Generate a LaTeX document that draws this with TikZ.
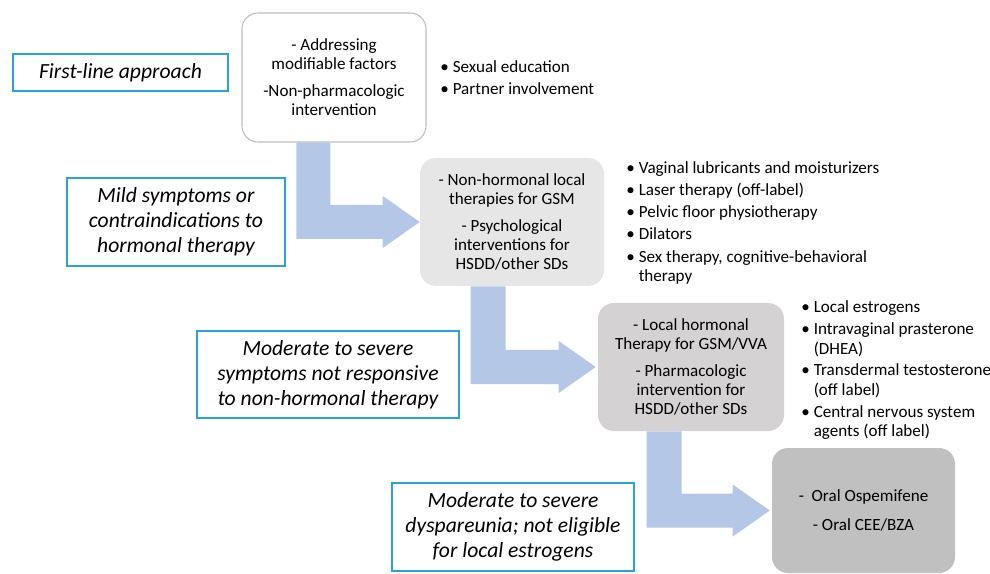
\documentclass[tikz,border=0pt]{standalone}
\usepackage{fontspec}
\setmainfont{Carlito}
\usetikzlibrary{calc}
\definecolor{condblue}{RGB}{41,163,219}
\definecolor{flowblue}{RGB}{180,199,231}
\definecolor{edgegray}{RGB}{191,191,191}
\definecolor{grayB}{RGB}{231,230,230}
\definecolor{grayC}{RGB}{212,210,210}
\definecolor{grayD}{RGB}{192,192,192}
\newcommand{\bitem}{\textbullet &}
\begin{document}
\begin{tikzpicture}[x=0.75pt,y=-0.75pt,
  cond/.style={draw=condblue,line width=0.9pt,align=center,inner sep=0pt,
    font=\fontsize{16.2}{18.75}\selectfont\itshape},
  stage/.style={rounded corners=12pt,align=center,inner sep=0pt,
    font=\fontsize{12.8}{14.3}\selectfont},
  list/.style={anchor=north west,inner sep=0pt,font=\fontsize{12.8}{14.8}\selectfont},
  flow/.style={fill=flowblue}]
\useasboundingbox (0,0) rectangle (990,574);

% treatment steps
\node[stage,draw=edgegray,line width=0.8pt,fill=white,minimum width=138pt,minimum height=96.75pt]
  (first) at (334,77.5) {- Addressing\\modifiable factors\\[6pt]-Non-pharmacologic\\intervention};
\node[stage,fill=grayB,minimum width=138pt,minimum height=96pt]
  (nonhorm) at (512,222) {- Non-hormonal local\\therapies for GSM\\[6pt]- Psychological\\interventions for\\HSDD/other SDs};
\node[stage,fill=grayC,minimum width=139.5pt,minimum height=96pt]
  (horm) at (691,367) {- Local hormonal\\Therapy for GSM/VVA\\[6pt]- Pharmacologic\\intervention for\\HSDD/other SDs};
\node[stage,fill=grayD,minimum width=137.25pt,minimum height=93.75pt]
  (oral) at (863.5,510.5) {-\ \ Oral Ospemifene\\[7pt]- Oral CEE/BZA};

% conditions
\node[cond,minimum width=161.25pt,minimum height=27.75pt] (c1) at (120.5,72.5) {First-line approach};
\node[cond,minimum width=163.5pt,minimum height=66pt] (c2) at (176,222)
  {Mild symptoms or\\contraindications to\\hormonal therapy};
\node[cond,minimum width=196.5pt,minimum height=65.25pt] (c3) at (328,374.5)
  {Moderate to severe\\symptoms not responsive\\to non-hormonal therapy};
\node[cond,minimum width=181.5pt,minimum height=66pt] (c4) at (513,527)
  {Moderate to severe\\dyspareunia; not eligible\\for local estrogens};

% options
\node[list] (l1) at (440,58.5) {\begin{tabular}{@{}l@{\hspace{3pt}}l@{}}
  \bitem Sexual education\\[1.8pt]
  \bitem Partner involvement
  \end{tabular}};
\node[list] (l2) at (626,159.5) {\begin{tabular}{@{}l@{\hspace{3pt}}l@{}}
  \bitem Vaginal lubricants and moisturizers\\[1.8pt]
  \bitem Laser therapy (off-label)\\[1.8pt]
  \bitem Pelvic floor physiotherapy\\[1.8pt]
  \bitem Dilators\\[1.8pt]
  \bitem Sex therapy, cognitive-behavioral\\
  & therapy
  \end{tabular}};
\node[list] (l3) at (801,298.5) {\begin{tabular}{@{}l@{\hspace{3pt}}l@{}}
  \bitem Local estrogens\\[1.5pt]
  \bitem Intravaginal prasterone\\
  & (DHEA)\\[1.5pt]
  \bitem Transdermal testosterone\\
  & (off label)\\[1.5pt]
  \bitem Central nervous system\\
  & agents (off label)
  \end{tabular}};

% block arrows
\fill[flow] ($(first.south west)+(55,0)$) -- ($(first.south west)+(89,0)$)
  |- ($(nonhorm.west)+(-37,-17)$) -- ++(0,-9) -- (nonhorm.west) -- ++(-37,26) -- ++(0,-9)
  -| ($(first.south west)+(55,0)$) -- cycle;
\fill[flow] ($(nonhorm.south west)+(51,0)$) -- ($(nonhorm.south west)+(86,0)$)
  |- ($(horm.west)+(-39,-17)$) -- ++(0,-9) -- ($(horm.west)+(-2,0)$) -- ++(-37,26) -- ++(0,-9)
  -| ($(nonhorm.south west)+(51,0)$) -- cycle;
\fill[flow] ($(horm.south west)+(49,0)$) -- ($(horm.south west)+(84,0)$)
  |- ($(oral.west)+(-39,-17)$) -- ++(0,-9) -- ($(oral.west)+(-2,0)$) -- ++(-37,26) -- ++(0,-9)
  -| ($(horm.south west)+(49,0)$) -- cycle;

\end{tikzpicture}
\end{document}
